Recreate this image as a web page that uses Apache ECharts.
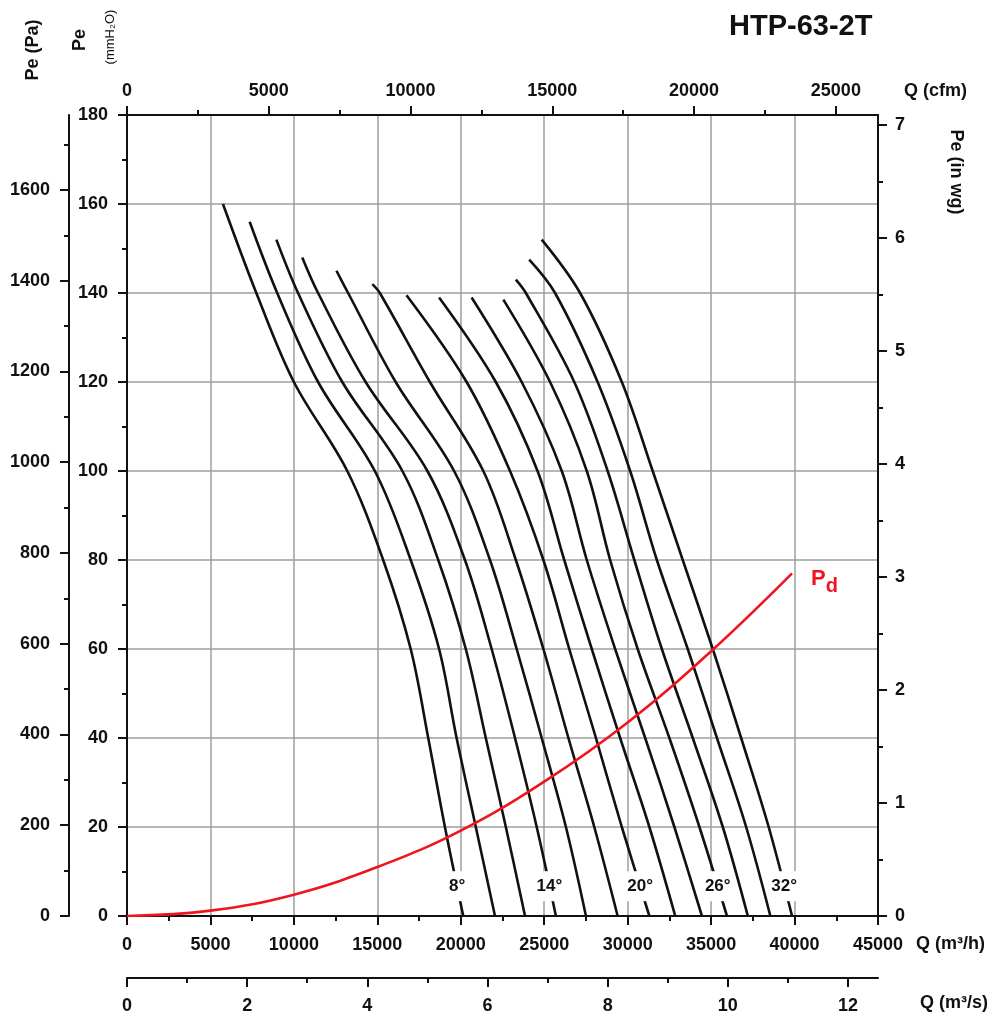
<!DOCTYPE html>
<html>
<head>
<meta charset="utf-8">
<title>HTP-63-2T</title>
<script src="https://cdn.jsdelivr.net/npm/echarts@6/dist/echarts.min.js"></script>
<style>
  html, body { margin: 0; padding: 0; background: #fff; }
  #chart { width: 1003px; height: 1020px; }
</style>
</head>
<body>
<div id="chart"></div>
<script>
// fan curves, [Q m3/h, Pe mmH2O], one per blade angle
const angles = [8, 10, 12, 14, 16, 18, 20, 22, 24, 26, 28, 30, 32];
const curve08 = [[5750, 160], [7750, 140], [10000, 120], [13200, 100], [15350, 80], [17000, 60], [18050, 40], [19050, 20], [20150, 0]];
const curve10 = [[7350, 156], [9000, 140], [11450, 120], [14850, 100], [17000, 80], [18700, 60], [19750, 40], [20900, 20], [22050, 0]];
const curve12 = [[8950, 152], [10250, 140], [12900, 120], [16500, 100], [18650, 80], [20300, 60], [21500, 40], [22700, 20], [23850, 0]];
const curve14 = [[10500, 148], [11450, 140], [14300, 120], [18000, 100], [20250, 80], [21850, 60], [23250, 40], [24550, 20], [25700, 0]];
const curve16 = [[12550, 145], [13250, 140], [16100, 120], [19600, 100], [21750, 80], [23350, 60], [24850, 40], [26300, 20], [27500, 0]];
const curve18 = [[14700, 142], [15150, 140], [18150, 120], [21350, 100], [23300, 80], [24950, 60], [26450, 40], [28000, 20], [29400, 0]];
const curve20 = [[16750, 139.5], [20350, 120], [22950, 100], [24950, 80], [26500, 60], [28100, 40], [29650, 20], [31300, 0]];
const curve22 = [[18700, 139], [22100, 120], [24600, 100], [26200, 80], [27850, 60], [29550, 40], [31300, 20], [32850, 0]];
const curve24 = [[20650, 139], [23650, 120], [26050, 100], [27550, 80], [29250, 60], [31050, 40], [32800, 20], [34450, 0]];
const curve26 = [[22550, 138.5], [25350, 120], [27550, 100], [28950, 80], [30600, 60], [32500, 40], [34300, 20], [35950, 0]];
const curve28 = [[23300, 143], [23900, 140], [26800, 120], [28800, 100], [30400, 80], [32050, 60], [33900, 40], [35700, 20], [37200, 0]];
const curve30 = [[24100, 147.5], [25650, 140], [28200, 120], [30150, 100], [31750, 80], [33600, 60], [35350, 40], [37100, 20], [38550, 0]];
const curve32 = [[24850, 152], [27150, 140], [29650, 120], [31500, 100], [33300, 80], [35100, 60], [36800, 40], [38450, 20], [39850, 0]];
const curves = [curve08, curve10, curve12, curve14, curve16, curve18, curve20, curve22, curve24, curve26, curve28, curve30, curve32];
const labelledAngles = [8, 14, 20, 26, 32];
const labelPe = 6.7;

// dynamic pressure Pd
const pdCurve = [[0, 0], [5000, 1.2], [10000, 4.8], [15000, 11], [20000, 19.2], [25000, 30.2], [30000, 43.5], [35000, 59.5], [39850, 77]];

// secondary axis ticks
const cfmTicks = [0, 5000, 10000, 15000, 20000, 25000];
const cfmMinor = [2500, 7500, 12500, 17500, 22500];
const m3sTicks = [0, 2, 4, 6, 8, 10, 12];
const m3sMinor = [1, 3, 5, 7, 9, 11];
const paTicks = [0, 200, 400, 600, 800, 1000, 1200, 1400, 1600];
const paMinor = [100, 300, 500, 700, 900, 1100, 1300, 1500, 1700];
const inwgTicks = [0, 1, 2, 3, 4, 5, 6, 7];
const inwgMinor = [0.5, 1.5, 2.5, 3.5, 4.5, 5.5, 6.5];

const Q_MAX = 45000;
const PE_MAX = 180;

const FONT = '"Liberation Sans", Arial, Helvetica, sans-serif';
const RED = '#f0141e';
const axisFont = { fontFamily: FONT, fontWeight: 'bold', fontSize: 18, color: '#111', formatter: v => String(v) };
const axisLineStyle = { color: '#111', width: 2 };

function peAt(curve, pe) {
    for (let i = 0; i < curve.length - 1; i++) {
        const a = curve[i], b = curve[i + 1];
        if (pe <= a[1] && pe >= b[1]) {
            const t = (a[1] - pe) / (a[1] - b[1]);
            return a[0] + t * (b[0] - a[0]);
        }
    }
    return curve[curve.length - 1][0];
}

function mainAxis(extra) {
    return Object.assign({
        type: 'value',
        axisLine: { show: true, onZero: false, lineStyle: axisLineStyle },
        axisTick: { show: true, length: 9, lineStyle: axisLineStyle },
        splitLine: { show: false },
        axisLabel: Object.assign({}, axisFont)
    }, extra);
}

function minorAxis(extra, values) {
    return Object.assign({
        type: 'value',
        axisLine: { show: false, onZero: false },
        axisTick: { show: true, length: 5, lineStyle: axisLineStyle, customValues: values },
        splitLine: { show: false },
        axisLabel: { show: false }
    }, extra);
}

document.addEventListener('DOMContentLoaded', () => {
    const chart = echarts.init(document.getElementById('chart'), null, { renderer: 'canvas' });

    const cfmMax = Q_MAX * 0.588578;
    const m3sMax = Q_MAX / 3600;
    const paMax = PE_MAX * 9.80665;
    const inwgMax = PE_MAX / 25.4;

    const curveSeries = curves.map((c, i) => ({
        name: angles[i] + '°',
        type: 'line',
        data: c,
        smooth: 0.35,
        showSymbol: false,
        symbol: 'none',
        lineStyle: { color: '#111', width: 2.6 },
        z: 2,
        silent: true
    }));

    // white box on the curve with the angle written in it
    const labelData = labelledAngles.map(a => {
        const c = curves[angles.indexOf(a)];
        const text = a + '°';
        return {
            value: [peAt(c, labelPe), labelPe],
            symbolSize: [text.length > 2 ? 31 : 21, 30],
            label: { formatter: text }
        };
    });

    const nameStyle = { fontFamily: FONT, fontWeight: 'bold', fontSize: 18, fill: '#111' };

    const option = {
        animation: false,
        title: {
            text: 'HTP-63-2T',
            left: 724,
            top: 7,
            textStyle: { fontFamily: FONT, fontWeight: 'bold', fontSize: 29, color: '#111' }
        },
        grid: { left: 127, right: 125, top: 115, bottom: 104, containLabel: false, outerBoundsMode: 'none' },
        xAxis: [
            mainAxis({
                position: 'bottom', min: 0, max: Q_MAX, interval: 5000,
                minorTick: { show: true, splitNumber: 2, length: 5, lineStyle: axisLineStyle },
                splitLine: { show: true, lineStyle: { color: '#9e9e9e', width: 1.5 } },
                axisLabel: Object.assign({}, axisFont, { margin: 20 })
            }),
            mainAxis({
                position: 'bottom', offset: 62, min: 0, max: m3sMax,
                axisTick: { show: true, length: 9, lineStyle: axisLineStyle, customValues: m3sTicks },
                axisLabel: Object.assign({}, axisFont, { margin: 19, customValues: m3sTicks })
            }),
            minorAxis({ position: 'bottom', offset: 62, min: 0, max: m3sMax }, m3sMinor),
            mainAxis({
                position: 'top', min: 0, max: cfmMax,
                axisTick: { show: true, length: 9, lineStyle: axisLineStyle, customValues: cfmTicks },
                axisLabel: Object.assign({}, axisFont, { margin: 15, customValues: cfmTicks })
            }),
            minorAxis({ position: 'top', min: 0, max: cfmMax }, cfmMinor)
        ],
        yAxis: [
            mainAxis({
                position: 'left', min: 0, max: PE_MAX, interval: 20,
                minorTick: { show: true, splitNumber: 2, length: 5, lineStyle: axisLineStyle },
                splitLine: { show: true, lineStyle: { color: '#9e9e9e', width: 1.5 } },
                axisLabel: Object.assign({}, axisFont, { margin: 19 })
            }),
            mainAxis({
                position: 'left', offset: 58, min: 0, max: paMax,
                axisTick: { show: true, length: 9, lineStyle: axisLineStyle, customValues: paTicks },
                axisLabel: Object.assign({}, axisFont, { margin: 19, customValues: paTicks })
            }),
            minorAxis({ position: 'left', offset: 58, min: 0, max: paMax }, paMinor),
            mainAxis({
                position: 'right', min: 0, max: inwgMax,
                axisTick: { show: true, length: 9, lineStyle: axisLineStyle, customValues: inwgTicks },
                axisLabel: Object.assign({}, axisFont, { margin: 17, customValues: inwgTicks })
            }),
            minorAxis({ position: 'right', min: 0, max: inwgMax }, inwgMinor)
        ],
        graphic: [
            { type: 'text', x: 916, y: 944, style: Object.assign({ text: 'Q (m³/h)', align: 'left', verticalAlign: 'middle' }, nameStyle) },
            { type: 'text', x: 920, y: 1003, style: Object.assign({ text: 'Q (m³/s)', align: 'left', verticalAlign: 'middle' }, nameStyle) },
            { type: 'text', x: 904, y: 91, style: Object.assign({ text: 'Q (cfm)', align: 'left', verticalAlign: 'middle' }, nameStyle) },
            { type: 'text', x: 33, y: 50, rotation: Math.PI / 2, style: Object.assign({ text: 'Pe (Pa)', align: 'center', verticalAlign: 'middle' }, nameStyle) },
            { type: 'text', x: 80, y: 40, rotation: Math.PI / 2, style: Object.assign({ text: 'Pe', align: 'center', verticalAlign: 'middle' }, nameStyle) },
            { type: 'text', x: 110, y: 37, rotation: Math.PI / 2, style: { text: '(mmH₂O)', align: 'center', verticalAlign: 'middle', fontFamily: FONT, fontSize: 13, fill: '#111' } },
            { type: 'text', x: 956, y: 172, rotation: -Math.PI / 2, style: Object.assign({ text: 'Pe (in wg)', align: 'center', verticalAlign: 'middle' }, nameStyle) }
        ],
        series: curveSeries.concat([
            {
                name: 'Pd',
                type: 'line',
                data: pdCurve,
                smooth: 0.4,
                showSymbol: false,
                symbol: 'none',
                lineStyle: { color: RED, width: 2.6 },
                z: 3,
                silent: true,
                endLabel: {
                    show: true,
                    distance: 19,
                    offset: [0, 9],
                    formatter: '{p|P}{d|d}',
                    rich: {
                        p: { fontFamily: FONT, fontWeight: 'bold', fontSize: 22, color: RED, lineHeight: 28, verticalAlign: 'top' },
                        d: { fontFamily: FONT, fontWeight: 'bold', fontSize: 20, color: RED, lineHeight: 28, verticalAlign: 'bottom' }
                    }
                }
            },
            {
                name: 'angles',
                type: 'scatter',
                data: labelData,
                symbol: 'rect',
                itemStyle: { color: '#fff', opacity: 1 },
                z: 4,
                silent: true,
                label: {
                    show: true,
                    position: 'inside',
                    fontFamily: FONT,
                    fontWeight: 'bold',
                    fontSize: 17,
                    color: '#111',
                    opacity: 1
                }
            }
        ])
    };

    chart.setOption(option);
});
</script>
</body>
</html>
